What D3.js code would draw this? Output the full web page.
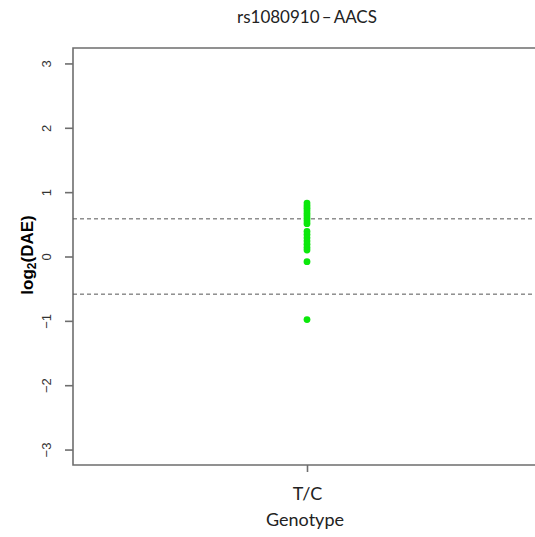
<!DOCTYPE html>
<html>
<head>
<meta charset="utf-8">
<script src="https://cdn.jsdelivr.net/npm/d3@7"></script>
<style>
  body { margin: 0; background: #fff; }
  svg { display: block; }
</style>
</head>
<body>
<svg id="chart" width="535" height="537"></svg>
<script>
// values
var title = "rs1080910\u2009\u2013\u2009AACS";
var genotypes = ["T/C"];
var daeValues = [0.83, 0.79, 0.75, 0.71, 0.67, 0.63, 0.59, 0.55, 0.51,
                 0.39, 0.34, 0.29, 0.24, 0.19, 0.14, 0.10, -0.08, -0.98];
var yTicks = [-3, -2, -1, 0, 1, 2, 3];
var thresholds = [Math.log2(1.5), -Math.log2(1.5)];

var svg = d3.select("#chart");
var plotLeft = 73, plotTop = 48, plotBottom = 465, plotRight = 541;
var axisColor = "#6e6e6e";

var x = d3.scalePoint()
    .domain(genotypes)
    .range([plotLeft, plotRight])
    .padding(0.5);

var y = d3.scaleLinear()
    .domain([-3.24, 3.24])
    .range([plotBottom, plotTop]);

// box (right side runs off the page)
svg.append("path")
    .attr("d", "M" + plotRight + "," + plotTop + "H" + plotLeft + "V" + plotBottom + "H" + plotRight)
    .attr("fill", "none")
    .attr("stroke", axisColor)
    .attr("stroke-width", 1.6);

// dashed cut-offs
svg.selectAll(".cut")
    .data(thresholds)
    .enter()
    .append("line")
    .attr("class", "cut")
    .attr("x1", plotLeft)
    .attr("x2", plotRight)
    .attr("y1", function (d) { return y(d) })
    .attr("y2", function (d) { return y(d) })
    .attr("stroke", "#555")
    .attr("stroke-width", 1)
    .attr("stroke-dasharray", "4,3");

// y axis
var yAxis = svg.append("g")
    .attr("transform", "translate(" + plotLeft + ",0)")
    .call(d3.axisLeft(y).tickValues(yTicks).tickSize(8).tickFormat(function (d) {
        return d < 0 ? "\u2212" + Math.abs(d) : d;
    }));
yAxis.select(".domain").remove();
yAxis.selectAll(".tick line").attr("stroke", axisColor).attr("stroke-width", 1.6);
yAxis.selectAll(".tick text")
    .attr("x", 0)
    .attr("dy", 0)
    .attr("transform", "translate(-22,0) rotate(-90)")
    .attr("text-anchor", "middle")
    .style("font-family", "'Liberation Sans', Arial, sans-serif")
    .style("font-size", "13px")
    .attr("fill", "#333");

// x axis
var xAxis = svg.append("g")
    .attr("transform", "translate(0," + plotBottom + ")")
    .call(d3.axisBottom(x).tickSize(7).tickPadding(15));
xAxis.select(".domain").remove();
xAxis.selectAll(".tick line").attr("stroke", axisColor).attr("stroke-width", 1.6);
xAxis.selectAll(".tick text")
    .style("font-family", "Lato, 'Open Sans', sans-serif")
    .style("font-size", "18px")
    .attr("fill", "#222");

// points
svg.selectAll(".pt")
    .data(daeValues)
    .enter()
    .append("circle")
    .attr("class", "pt")
    .attr("cx", x("T/C"))
    .attr("cy", function (d) { return y(d) })
    .attr("r", 3.4)
    .attr("fill", "#0be80b");

// title
svg.append("text")
    .attr("x", 307)
    .attr("y", 23)
    .attr("text-anchor", "middle")
    .style("font-family", "Lato, 'Open Sans', sans-serif")
    .style("font-size", "17px")
    .attr("fill", "#222")
    .text(title);

// x title
svg.append("text")
    .attr("x", 305)
    .attr("y", 526)
    .attr("text-anchor", "middle")
    .style("font-family", "Lato, 'Open Sans', sans-serif")
    .style("font-size", "18px")
    .attr("fill", "#222")
    .text("Genotype");

// y title with subscript
var ylab = svg.append("text")
    .attr("transform", "translate(33,255) rotate(-90)")
    .attr("text-anchor", "middle")
    .style("font-family", "'Liberation Sans', Arial, sans-serif")
    .style("font-size", "17px")
    .style("font-weight", "bold")
    .attr("fill", "#000");
ylab.append("tspan").text("log");
ylab.append("tspan").attr("dy", 3).style("font-size", "12px").text("2");
ylab.append("tspan").attr("dy", -3).text("(DAE)");
</script>
</body>
</html>
